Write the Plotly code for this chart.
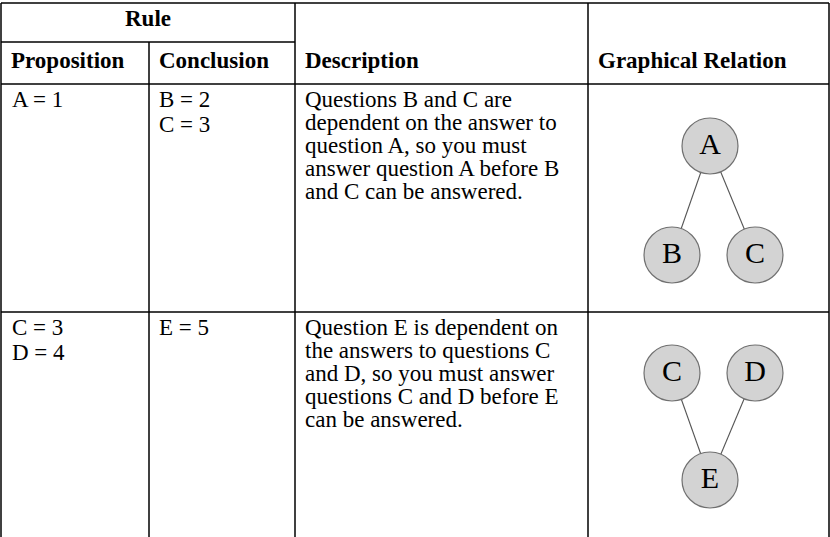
import plotly.graph_objects as go

W, H = 830, 537
FONTE = "Liberation Serif"
TAM = 23
CINZA_NO = "#d3d3d3"
BORDA_NO = "#707070"

# ------------------------------------------------------------
# DADOS
# ------------------------------------------------------------
headers = ["Proposition", "Conclusion", "Description", "Graphical Relation"]
group_header = "Rule"

propositions = [["A = 1"], ["C = 3", "D = 4"]]
conclusions = [["B = 2", "C = 3"], ["E = 5"]]
descriptions = [
    [
        "Questions B and C are",
        "dependent on the answer to",
        "question A, so you must",
        "answer question A before B",
        "and C can be answered.",
    ],
    [
        "Question E is dependent on",
        "the answers to questions C",
        "and D, so you must answer",
        "questions C and D before E",
        "can be answered.",
    ],
]

# grafos (posição dos nós em pixels da página)
node_labels = [["A", "B", "C"], ["C", "D", "E"]]
node_x = [[710, 672, 755], [672, 755, 710]]
node_y = [[146, 255, 255], [373, 373, 480]]
edges = [[("A", "B"), ("A", "C")], [("C", "E"), ("D", "E")]]

# ------------------------------------------------------------
# GRADE DA TABELA
# ------------------------------------------------------------
col_x = [1, 149, 295, 588, 829]
row_y = [3, 42, 84, 312]
row_top = [84, 312]

fig = go.Figure()

shapes = []


def linha(x0, y0, x1, y1):
    shapes.append(
        dict(type="line", x0=x0, y0=y0, x1=x1, y1=y1, xref="x", yref="y",
             line=dict(color="black", width=1.5), layer="above")
    )


linha(col_x[0], row_y[0], col_x[-1], row_y[0])
linha(col_x[0], row_y[1], col_x[2], row_y[1])
linha(col_x[0], row_y[2], col_x[-1], row_y[2])
linha(col_x[0], row_y[3], col_x[-1], row_y[3])
linha(col_x[0], row_y[0], col_x[0], H)
linha(col_x[1], row_y[1], col_x[1], H)
for cx in col_x[2:]:
    linha(cx, row_y[0], cx, H)

# ------------------------------------------------------------
# TEXTOS
# ------------------------------------------------------------
annotations = []


def texto(x, y, s, bold=False, size=TAM):
    annotations.append(
        dict(x=x, y=y, xref="x", yref="y", text=f"<b>{s}</b>" if bold else s,
             showarrow=False, xanchor="left", yanchor="middle",
             font=dict(family=FONTE, size=size, color="black"))
    )


annotations.append(
    dict(x=(col_x[0] + col_x[2]) / 2, y=18, xref="x", yref="y",
         text=f"<b>{group_header}</b>", showarrow=False,
         xanchor="center", yanchor="middle",
         font=dict(family=FONTE, size=TAM, color="black"))
)
for cx, h in zip(col_x[:4], headers):
    texto(cx + 8, 60, h, bold=True)

for i, top in enumerate(row_top):
    for j, s in enumerate(propositions[i]):
        texto(col_x[0] + 9, top + 15 + 25 * j, s)
    for j, s in enumerate(conclusions[i]):
        texto(col_x[1] + 8, top + 15 + 25 * j, s)
    for j, s in enumerate(descriptions[i]):
        texto(col_x[2] + 8, top + 15 + 23.2 * j, s)

# ------------------------------------------------------------
# GRAFOS
# ------------------------------------------------------------
for labels, xs, ys, eds in zip(node_labels, node_x, node_y, edges):
    pos = {lab: (x, y) for lab, x, y in zip(labels, xs, ys)}
    for a, b in eds:
        fig.add_trace(go.Scatter(
            x=[pos[a][0], pos[b][0]], y=[pos[a][1], pos[b][1]],
            mode="lines", line=dict(color="#555555", width=1.1),
            hoverinfo="skip", showlegend=False,
        ))
    fig.add_trace(go.Scatter(
        x=xs, y=ys, mode="markers+text", text=labels,
        textposition="middle center",
        textfont=dict(family=FONTE, size=30, color="black"),
        marker=dict(size=56, color=CINZA_NO, line=dict(color=BORDA_NO, width=1.2)),
        hoverinfo="skip", showlegend=False,
    ))

fig.update_layout(
    width=W,
    height=H,
    margin=dict(l=0, r=0, t=0, b=0),
    paper_bgcolor="white",
    plot_bgcolor="white",
    xaxis=dict(range=[0, W], visible=False, fixedrange=True),
    yaxis=dict(range=[H, 0], visible=False, fixedrange=True),
    shapes=shapes,
    annotations=annotations,
    showlegend=False,
)

fig.write_html(
    "out.html",
    config={"displayModeBar": False},
    post_script="document.body.style.margin='0';document.body.style.overflow='hidden';",
)
